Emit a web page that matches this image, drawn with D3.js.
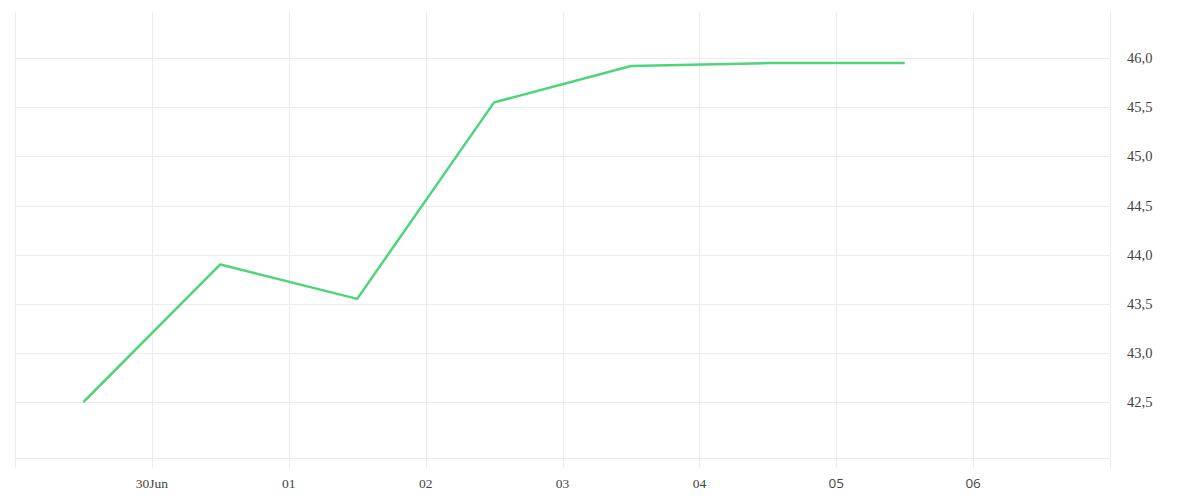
<!DOCTYPE html>
<html>
<head>
<meta charset="utf-8">
<script src="https://cdn.jsdelivr.net/npm/d3@7"></script>
<style>
  html, body { margin: 0; padding: 0; background: #fff; }
  svg { display: block; }
</style>
</head>
<body>
<svg id="chart" width="1200" height="500"></svg>
<script>
const dates = ["2025-06-29T12:00", "2025-06-30T12:00", "2025-07-01T12:00", "2025-07-02T12:00", "2025-07-03T12:00", "2025-07-04T12:00", "2025-07-05T12:00"];
const values = [42.5, 43.9, 43.55, 45.55, 45.92, 45.95, 45.95];
const yTicks = [42.5, 43.0, 43.5, 44.0, 44.5, 45.0, 45.5, 46.0];
const xTickDates = ["2025-06-30", "2025-07-01", "2025-07-02", "2025-07-03", "2025-07-04", "2025-07-05", "2025-07-06"];
const xTickLabels = ["30Jun", "01", "02", "03", "04", "05", "06"];
const xDomain = ["2025-06-29", "2025-07-07"];
const yDomain = [41.93, 46.47];

(function () {
const parse = d3.timeParse("%Y-%m-%dT%H:%M");
const parseDay = d3.timeParse("%Y-%m-%d");

const pl = 15, pr = 1110, pt = 12, pb = 458;
const svg = d3.select("#chart");

const x = d3.scaleTime().domain(xDomain.map(parseDay)).range([pl, pr]);
const y = d3.scaleLinear().domain(yDomain).range([pb, pt]);

const grid = "#ebebeb";

svg.append("g").selectAll("line").data(yTicks).join("line")
  .attr("x1", pl).attr("x2", pr)
  .attr("y1", d => Math.round(y(d)) + 0.5).attr("y2", d => Math.round(y(d)) + 0.5)
  .attr("stroke", grid).attr("stroke-width", 1);

const vLines = [parseDay(xDomain[0])].concat(xTickDates.map(parseDay)).concat([parseDay(xDomain[1])]);
svg.append("g").selectAll("line").data(vLines).join("line")
  .attr("x1", d => Math.round(x(d)) + 0.5).attr("x2", d => Math.round(x(d)) + 0.5)
  .attr("y1", pt).attr("y2", pb + 10)
  .attr("stroke", grid).attr("stroke-width", 1);

svg.append("line")
  .attr("x1", pl).attr("x2", pr)
  .attr("y1", pb + 0.5).attr("y2", pb + 0.5)
  .attr("stroke", grid).attr("stroke-width", 1);

svg.append("g").selectAll("text").data(xTickDates).join("text")
  .attr("x", d => x(parseDay(d)))
  .attr("y", 488)
  .attr("text-anchor", "middle")
  .attr("font-family", (d, i) => i >= 5 ? "'Open Sans', sans-serif" : "'Liberation Serif', serif")
  .attr("font-size", 13.5)
  .attr("fill", "#444")
  .text((d, i) => xTickLabels[i]);

const fmt = v => d3.format(".1f")(v).replace(".", ",");
svg.append("g").selectAll("text").data(yTicks).join("text")
  .attr("x", 1127)
  .attr("y", d => y(d) + 5)
  .attr("text-anchor", "start")
  .attr("font-family", "'Liberation Serif', serif")
  .attr("font-size", 14.5)
  .attr("fill", "#444")
  .text(d => fmt(d));

const pts = dates.map((d, i) => ({ t: parse(d), v: values[i] }));
svg.append("path")
  .datum(pts)
  .attr("fill", "none")
  .attr("stroke", "#4cd57a")
  .attr("stroke-width", 2.5)
  .attr("stroke-linejoin", "round")
  .attr("d", d3.line().x(d => x(d.t)).y(d => y(d.v)));
})();
</script>
</body>
</html>
